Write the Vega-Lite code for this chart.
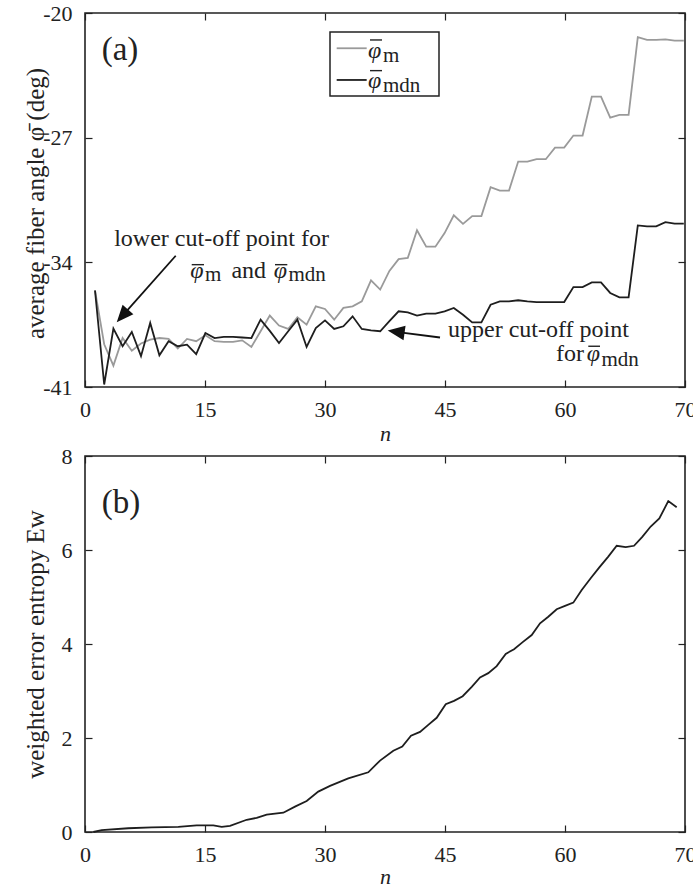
{
  "$schema": "https://vega.github.io/schema/vega-lite/v6.json",
  "padding": {"left": 22, "top": 1, "right": 0, "bottom": 0},
  "spacing": -1,
  "datasets": {
    "phi_m": [
      {"n":1.25,"angle":-35.58},{"n":2.40,"angle":-38.6},{"n":3.55,"angle":-39.80},{"n":4.70,"angle":-38.25},{"n":5.85,"angle":-38.96},{"n":7.00,"angle":-38.56},{"n":8.15,"angle":-38.34},{"n":9.30,"angle":-38.25},{"n":10.45,"angle":-38.30},{"n":11.60,"angle":-38.84},{"n":12.75,"angle":-38.30},{"n":13.90,"angle":-38.43},{"n":15.05,"angle":-38.10},{"n":16.20,"angle":-38.43},{"n":17.35,"angle":-38.47},{"n":18.50,"angle":-38.47},{"n":19.65,"angle":-38.38},{"n":20.80,"angle":-38.75},{"n":21.95,"angle":-37.87},{"n":23.10,"angle":-36.99},{"n":24.25,"angle":-37.55},{"n":25.40,"angle":-37.74},{"n":26.55,"angle":-37.09},{"n":27.70,"angle":-37.50},{"n":28.85,"angle":-36.47},{"n":30.00,"angle":-36.62},{"n":31.15,"angle":-37.22},{"n":32.30,"angle":-36.56},{"n":33.45,"angle":-36.47},{"n":34.60,"angle":-36.19},{"n":35.75,"angle":-35.01},{"n":36.90,"angle":-35.53},{"n":38.05,"angle":-34.48},{"n":39.20,"angle":-33.82},{"n":40.35,"angle":-33.75},{"n":41.50,"angle":-32.20},{"n":42.65,"angle":-33.12},{"n":43.80,"angle":-33.12},{"n":44.95,"angle":-32.36},{"n":46.10,"angle":-31.36},{"n":47.25,"angle":-31.84},{"n":48.40,"angle":-31.40},{"n":49.55,"angle":-31.40},{"n":50.70,"angle":-29.78},{"n":51.85,"angle":-29.97},{"n":53.00,"angle":-29.97},{"n":54.15,"angle":-28.34},{"n":55.30,"angle":-28.34},{"n":56.45,"angle":-28.21},{"n":57.60,"angle":-28.21},{"n":58.75,"angle":-27.56},{"n":59.90,"angle":-27.56},{"n":61.05,"angle":-26.88},{"n":62.20,"angle":-26.88},{"n":63.35,"angle":-24.69},{"n":64.50,"angle":-24.69},{"n":65.65,"angle":-25.87},{"n":66.80,"angle":-25.72},{"n":67.95,"angle":-25.72},{"n":69.10,"angle":-21.36},{"n":70.25,"angle":-21.51},{"n":71.40,"angle":-21.51},{"n":72.55,"angle":-21.48},{"n":73.70,"angle":-21.55},{"n":74.85,"angle":-21.55}
    ],
    "phi_mdn": [
      {"n":1.25,"angle":-35.58},{"n":2.40,"angle":-40.86},{"n":3.55,"angle":-37.72},{"n":4.70,"angle":-38.71},{"n":5.85,"angle":-37.91},{"n":7.00,"angle":-39.27},{"n":8.15,"angle":-37.40},{"n":9.30,"angle":-39.22},{"n":10.45,"angle":-38.43},{"n":11.60,"angle":-38.71},{"n":12.75,"angle":-38.62},{"n":13.90,"angle":-39.16},{"n":15.05,"angle":-37.97},{"n":16.20,"angle":-38.25},{"n":17.35,"angle":-38.19},{"n":18.50,"angle":-38.19},{"n":19.65,"angle":-38.22},{"n":20.80,"angle":-38.25},{"n":21.95,"angle":-37.22},{"n":23.10,"angle":-37.85},{"n":24.25,"angle":-38.53},{"n":25.40,"angle":-37.87},{"n":26.55,"angle":-37.22},{"n":27.70,"angle":-38.75},{"n":28.85,"angle":-37.69},{"n":30.00,"angle":-37.26},{"n":31.15,"angle":-37.74},{"n":32.30,"angle":-37.59},{"n":33.45,"angle":-37.03},{"n":34.60,"angle":-37.74},{"n":35.75,"angle":-37.82},{"n":36.90,"angle":-37.87},{"n":38.05,"angle":-37.30},{"n":39.20,"angle":-36.75},{"n":40.35,"angle":-36.81},{"n":41.50,"angle":-36.99},{"n":42.65,"angle":-36.88},{"n":43.80,"angle":-36.88},{"n":44.95,"angle":-36.75},{"n":46.10,"angle":-36.56},{"n":47.25,"angle":-36.94},{"n":48.40,"angle":-37.37},{"n":49.55,"angle":-37.37},{"n":50.70,"angle":-36.38},{"n":51.85,"angle":-36.19},{"n":53.00,"angle":-36.19},{"n":54.15,"angle":-36.13},{"n":55.30,"angle":-36.19},{"n":56.45,"angle":-36.23},{"n":57.60,"angle":-36.23},{"n":58.75,"angle":-36.23},{"n":59.90,"angle":-36.23},{"n":61.05,"angle":-35.39},{"n":62.20,"angle":-35.39},{"n":63.35,"angle":-35.13},{"n":64.50,"angle":-35.13},{"n":65.65,"angle":-35.72},{"n":66.80,"angle":-35.97},{"n":67.95,"angle":-35.97},{"n":69.10,"angle":-31.93},{"n":70.25,"angle":-31.98},{"n":71.40,"angle":-31.98},{"n":72.55,"angle":-31.74},{"n":73.70,"angle":-31.83},{"n":74.85,"angle":-31.83}
    ],
    "entropy": [
      {"n":1.04,"E":0.00},{"n":2.09,"E":0.04},{"n":5.41,"E":0.08},{"n":8.34,"E":0.10},{"n":11.66,"E":0.11},{"n":13.96,"E":0.14},{"n":16.04,"E":0.14},{"n":17.09,"E":0.11},{"n":18.13,"E":0.13},{"n":20.21,"E":0.26},{"n":21.46,"E":0.30},{"n":22.71,"E":0.37},{"n":24.79,"E":0.41},{"n":26.25,"E":0.54},{"n":27.71,"E":0.66},{"n":29.16,"E":0.86},{"n":30.63,"E":0.98},{"n":32.91,"E":1.14},{"n":35.41,"E":1.27},{"n":36.88,"E":1.52},{"n":38.54,"E":1.73},{"n":39.66,"E":1.82},{"n":40.75,"E":2.05},{"n":41.88,"E":2.13},{"n":42.91,"E":2.28},{"n":43.96,"E":2.43},{"n":45.09,"E":2.72},{"n":46.13,"E":2.79},{"n":47.21,"E":2.89},{"n":48.34,"E":3.09},{"n":49.38,"E":3.29},{"n":50.41,"E":3.38},{"n":51.46,"E":3.53},{"n":52.59,"E":3.79},{"n":53.63,"E":3.89},{"n":54.71,"E":4.04},{"n":55.84,"E":4.19},{"n":56.88,"E":4.44},{"n":57.91,"E":4.58},{"n":58.96,"E":4.74},{"n":60.00,"E":4.81},{"n":61.04,"E":4.88},{"n":62.09,"E":5.15},{"n":63.21,"E":5.40},{"n":64.29,"E":5.63},{"n":65.41,"E":5.86},{"n":66.46,"E":6.09},{"n":67.59,"E":6.06},{"n":68.63,"E":6.09},{"n":69.66,"E":6.28},{"n":70.71,"E":6.50},{"n":71.79,"E":6.67},{"n":72.91,"E":7.04},{"n":73.96,"E":6.91}
    ]
  },
  "vconcat": [
    {
      "width": 600,
      "height": 374,
      "layer": [
        {
          "data": {"name": "phi_m"},
          "mark": {"type": "line", "color": "#9a9a9a", "strokeWidth": 1.8},
          "encoding": {
            "x": {"field": "n", "type": "quantitative", "scale": {"domain": [0, 75], "nice": false, "zero": false},
                  "axis": {"orient": "bottom", "values": [0, 15, 30, 45, 60, 75], "labelExpr": "datum.value == 75 ? '70' : toString(datum.value)", "labelPadding": 19, "title": "n", "titleFontStyle": "italic", "titleFontSize": 22, "titleBaseline": "alphabetic", "titleY": 53}},
            "y": {"field": "angle", "type": "quantitative", "scale": {"domain": [-41, -20], "nice": false, "zero": false},
                  "axis": {"orient": "left", "values": [-41, -34, -27, -20], "labelExpr": "toString(datum.value)", "labelPadding": 20, "title": "average fiber angle \u03c6\u0304 (deg)", "titleBaseline": "alphabetic", "titleX": -42, "titleY": 190}}
          }
        },
        {
          "data": {"name": "phi_mdn"},
          "mark": {"type": "line", "color": "#1e1e1e", "strokeWidth": 1.8},
          "encoding": {
            "x": {"field": "n", "type": "quantitative", "scale": {"domain": [0, 75], "nice": false, "zero": false},
                  "axis": {"orient": "top", "values": [0, 15, 30, 45, 60, 75], "labels": false, "title": null}},
            "y": {"field": "angle", "type": "quantitative", "scale": {"domain": [-41, -20], "nice": false, "zero": false},
                  "axis": {"orient": "right", "values": [-41, -34, -27, -20], "labels": false, "title": null}}
          }
        },
        {
          "data": {"values": [{}]},
          "mark": {"type": "rect", "fill": "white", "stroke": "#222", "strokeWidth": 1.5},
          "encoding": {
            "x": {"datum": 30.625, "type": "quantitative", "axis": null}, "x2": {"datum": 44.25},
            "y": {"datum": -21.065, "type": "quantitative", "axis": null}, "y2": {"datum": -24.654}
          }
        },
        {
          "data": {"values": [{}]},
          "mark": {"type": "rule", "color": "#9a9a9a", "strokeWidth": 1.8},
          "encoding": {
            "x": {"datum": 31.46, "type": "quantitative", "axis": null}, "x2": {"datum": 35.21},
            "y": {"datum": -21.98, "type": "quantitative", "axis": null}
          }
        },
        {
          "data": {"values": [{}]},
          "mark": {"type": "rule", "color": "#1e1e1e", "strokeWidth": 1.8},
          "encoding": {
            "x": {"datum": 31.46, "type": "quantitative", "axis": null}, "x2": {"datum": 35.21},
            "y": {"datum": -23.76, "type": "quantitative", "axis": null}
          }
        },
        {
          "data": {"values": [{}]},
          "mark": {"type": "rule", "color": "#222", "strokeWidth": 1.4},
          "encoding": {
            "x": {"datum": 35.625, "type": "quantitative", "axis": null}, "x2": {"datum": 37.125},
            "y": {"datum": -21.514, "type": "quantitative", "axis": null}
          }
        },
        {
          "data": {"values": [{}]},
          "mark": {"type": "rule", "color": "#222", "strokeWidth": 1.4},
          "encoding": {
            "x": {"datum": 35.625, "type": "quantitative", "axis": null}, "x2": {"datum": 37.125},
            "y": {"datum": -23.236, "type": "quantitative", "axis": null}
          }
        },
        {
          "data": {"values": [{}]},
          "mark": {"type": "text", "align": "left", "baseline": "alphabetic", "fontSize": 24, "fontStyle": "italic"},
          "encoding": {
            "x": {"datum": 35.375, "type": "quantitative", "axis": null},
            "y": {"datum": -22.52, "type": "quantitative", "axis": null},
            "text": {"value": "\u03c6"}
          }
        },
        {
          "data": {"values": [{}]},
          "mark": {"type": "text", "align": "left", "baseline": "alphabetic", "fontSize": 21},
          "encoding": {
            "x": {"datum": 37.25, "type": "quantitative", "axis": null},
            "y": {"datum": -22.73, "type": "quantitative", "axis": null},
            "text": {"value": "m"}
          }
        },
        {
          "data": {"values": [{}]},
          "mark": {"type": "text", "align": "left", "baseline": "alphabetic", "fontSize": 24, "fontStyle": "italic"},
          "encoding": {
            "x": {"datum": 35.375, "type": "quantitative", "axis": null},
            "y": {"datum": -24.21, "type": "quantitative", "axis": null},
            "text": {"value": "\u03c6"}
          }
        },
        {
          "data": {"values": [{}]},
          "mark": {"type": "text", "align": "left", "baseline": "alphabetic", "fontSize": 21},
          "encoding": {
            "x": {"datum": 37.25, "type": "quantitative", "axis": null},
            "y": {"datum": -24.41, "type": "quantitative", "axis": null},
            "text": {"value": "mdn"}
          }
        },
        {
          "data": {"values": [{}]},
          "mark": {"type": "text", "align": "left", "baseline": "alphabetic", "fontSize": 33},
          "encoding": {
            "x": {"datum": 2.09, "type": "quantitative", "axis": null},
            "y": {"datum": -22.64, "type": "quantitative", "axis": null},
            "text": {"value": "(a)"}
          }
        },
        {
          "data": {"values": [{}]},
          "mark": {"type": "text", "align": "right", "baseline": "alphabetic", "fontSize": 24},
          "encoding": {
            "x": {"datum": 30.5, "type": "quantitative", "axis": null},
            "y": {"datum": -33.065, "type": "quantitative", "axis": null},
            "text": {"value": "lower cut-off point for"}
          }
        },
        {
          "data": {"values": [{}]},
          "mark": {"type": "rule", "color": "#222", "strokeWidth": 1.4},
          "encoding": {
            "x": {"datum": 13.34, "type": "quantitative", "axis": null}, "x2": {"datum": 14.875},
            "y": {"datum": -34.131, "type": "quantitative", "axis": null}
          }
        },
        {
          "data": {"values": [{}]},
          "mark": {"type": "text", "align": "right", "baseline": "alphabetic", "fontSize": 24, "fontStyle": "italic"},
          "encoding": {
            "x": {"datum": 14.81, "type": "quantitative", "axis": null},
            "y": {"datum": -34.88, "type": "quantitative", "axis": null},
            "text": {"value": "\u03c6"}
          }
        },
        {
          "data": {"values": [{}]},
          "mark": {"type": "text", "align": "left", "baseline": "alphabetic", "fontSize": 21},
          "encoding": {
            "x": {"datum": 15.0, "type": "quantitative", "axis": null},
            "y": {"datum": -35.05, "type": "quantitative", "axis": null},
            "text": {"value": "m"}
          }
        },
        {
          "data": {"values": [{}]},
          "mark": {"type": "text", "align": "left", "baseline": "alphabetic", "fontSize": 24},
          "encoding": {
            "x": {"datum": 18.3, "type": "quantitative", "axis": null},
            "y": {"datum": -34.88, "type": "quantitative", "axis": null},
            "text": {"value": "and"}
          }
        },
        {
          "data": {"values": [{}]},
          "mark": {"type": "rule", "color": "#222", "strokeWidth": 1.4},
          "encoding": {
            "x": {"datum": 23.75, "type": "quantitative", "axis": null}, "x2": {"datum": 25.29},
            "y": {"datum": -34.131, "type": "quantitative", "axis": null}
          }
        },
        {
          "data": {"values": [{}]},
          "mark": {"type": "text", "align": "right", "baseline": "alphabetic", "fontSize": 24, "fontStyle": "italic"},
          "encoding": {
            "x": {"datum": 25.25, "type": "quantitative", "axis": null},
            "y": {"datum": -34.88, "type": "quantitative", "axis": null},
            "text": {"value": "\u03c6"}
          }
        },
        {
          "data": {"values": [{}]},
          "mark": {"type": "text", "align": "left", "baseline": "alphabetic", "fontSize": 21},
          "encoding": {
            "x": {"datum": 25.44, "type": "quantitative", "axis": null},
            "y": {"datum": -35.05, "type": "quantitative", "axis": null},
            "text": {"value": "mdn"}
          }
        },
        {
          "data": {"values": [{}]},
          "mark": {"type": "rule", "color": "#111", "strokeWidth": 1.8},
          "encoding": {
            "x": {"datum": 11.34, "type": "quantitative", "axis": null}, "x2": {"datum": 4.67},
            "y": {"datum": -33.63, "type": "quantitative", "axis": null}, "y2": {"datum": -37.01}
          }
        },
        {
          "data": {"values": [{}]},
          "mark": {"type": "point", "shape": "M0,-1L0.85,1L-0.85,1Z", "filled": true, "size": 289, "angle": 221.5, "color": "#111", "opacity": 1},
          "encoding": {
            "x": {"datum": 4.67, "type": "quantitative", "axis": null},
            "y": {"datum": -37.01, "type": "quantitative", "axis": null}
          }
        },
        {
          "data": {"values": [{}]},
          "mark": {"type": "text", "align": "left", "baseline": "alphabetic", "fontSize": 24},
          "encoding": {
            "x": {"datum": 45.375, "type": "quantitative", "axis": null},
            "y": {"datum": -38.19, "type": "quantitative", "axis": null},
            "text": {"value": "upper cut-off point"}
          }
        },
        {
          "data": {"values": [{}]},
          "mark": {"type": "text", "align": "right", "baseline": "alphabetic", "fontSize": 24},
          "encoding": {
            "x": {"datum": 62.375, "type": "quantitative", "axis": null},
            "y": {"datum": -39.55, "type": "quantitative", "axis": null},
            "text": {"value": "for"}
          }
        },
        {
          "data": {"values": [{}]},
          "mark": {"type": "rule", "color": "#222", "strokeWidth": 1.4},
          "encoding": {
            "x": {"datum": 62.91, "type": "quantitative", "axis": null}, "x2": {"datum": 64.375},
            "y": {"datum": -38.712, "type": "quantitative", "axis": null}
          }
        },
        {
          "data": {"values": [{}]},
          "mark": {"type": "text", "align": "right", "baseline": "alphabetic", "fontSize": 24, "fontStyle": "italic"},
          "encoding": {
            "x": {"datum": 64.375, "type": "quantitative", "axis": null},
            "y": {"datum": -39.55, "type": "quantitative", "axis": null},
            "text": {"value": "\u03c6"}
          }
        },
        {
          "data": {"values": [{}]},
          "mark": {"type": "text", "align": "left", "baseline": "alphabetic", "fontSize": 21},
          "encoding": {
            "x": {"datum": 64.56, "type": "quantitative", "axis": null},
            "y": {"datum": -39.83, "type": "quantitative", "axis": null},
            "text": {"value": "mdn"}
          }
        },
        {
          "data": {"values": [{}]},
          "mark": {"type": "rule", "color": "#111", "strokeWidth": 1.8},
          "encoding": {
            "x": {"datum": 44.375, "type": "quantitative", "axis": null}, "x2": {"datum": 38.89},
            "y": {"datum": -38.22, "type": "quantitative", "axis": null}, "y2": {"datum": -37.90}
          }
        },
        {
          "data": {"values": [{}]},
          "mark": {"type": "point", "shape": "M0,-1L0.85,1L-0.85,1Z", "filled": true, "size": 289, "angle": 278, "color": "#111", "opacity": 1},
          "encoding": {
            "x": {"datum": 38.89, "type": "quantitative", "axis": null},
            "y": {"datum": -37.90, "type": "quantitative", "axis": null}
          }
        }
      ],
      "resolve": {"axis": {"x": "independent", "y": "independent"}}
    },
    {
      "width": 600,
      "height": 376,
      "layer": [
        {
          "data": {"name": "entropy"},
          "mark": {"type": "line", "color": "#1e1e1e", "strokeWidth": 1.8},
          "encoding": {
            "x": {"field": "n", "type": "quantitative", "scale": {"domain": [0, 75], "nice": false, "zero": false},
                  "axis": {"orient": "bottom", "values": [0, 15, 30, 45, 60, 75], "labelExpr": "datum.value == 75 ? '70' : toString(datum.value)", "labelPadding": 19, "title": "n", "titleFontStyle": "italic", "titleFontSize": 22, "titleBaseline": "alphabetic", "titleY": 51}},
            "y": {"field": "E", "type": "quantitative", "scale": {"domain": [0, 8], "nice": false},
                  "axis": {"orient": "left", "values": [0, 2, 4, 6, 8], "labelExpr": "toString(datum.value)", "labelPadding": 20, "title": "weighted error entropy Ew", "titleBaseline": "alphabetic", "titleX": -42, "titleY": 188}}
          }
        },
        {
          "data": {"values": [{}]},
          "mark": {"type": "text", "align": "left", "baseline": "alphabetic", "fontSize": 33},
          "encoding": {
            "x": {"datum": 2.09, "type": "quantitative", "scale": {"domain": [0, 75], "nice": false, "zero": false},
                  "axis": {"orient": "top", "values": [0, 15, 30, 45, 60, 75], "labels": false, "title": null}},
            "y": {"datum": 6.78, "type": "quantitative", "scale": {"domain": [0, 8], "nice": false},
                  "axis": {"orient": "right", "values": [0, 2, 4, 6, 8], "labels": false, "title": null}},
            "text": {"value": "(b)"}
          }
        }
      ],
      "resolve": {"axis": {"x": "independent", "y": "independent"}}
    }
  ],
  "config": {
    "font": "Liberation Serif",
    "view": {"stroke": "#222", "strokeWidth": 1.6},
    "axis": {
      "labelFont": "Liberation Serif", "labelFontSize": 22, "labelColor": "#222",
      "tickColor": "#222", "tickWidth": 1.2, "tickSize": -7,
      "domain": false, "grid": false, "labelFlush": false,
      "titleFont": "Liberation Serif", "titleFontSize": 25, "titleFontWeight": "normal", "titleColor": "#222"
    },
    "text": {"font": "Liberation Serif", "color": "#222"}
  }
}
